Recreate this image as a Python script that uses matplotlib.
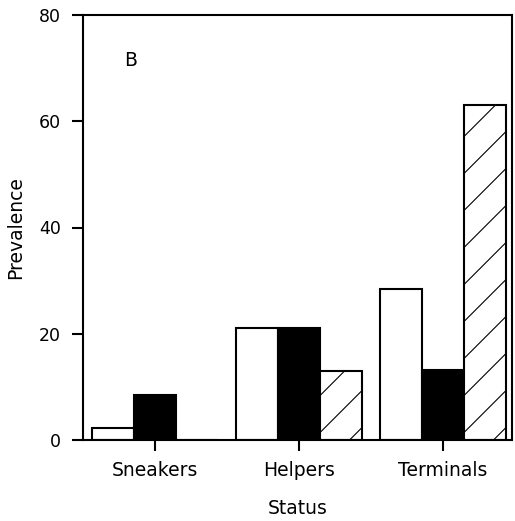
import numpy as np
import matplotlib
matplotlib.use("Agg")
import matplotlib.pyplot as plt

categories = ["Sneakers", "Helpers", "Terminals"]
white_vals = [2.3, 21.0, 28.5]
black_vals = [8.5, 21.0, 13.1]
hatch_vals = [0.0, 13.0, 63.0]
yticks = [0, 20, 40, 60, 80]

plt.rcParams['font.family'] = ['DejaVu Sans']

fig = plt.figure(figsize=(5.15, 5.21), dpi=100)
ax = fig.add_axes([83/515, 81/521, (512-83)/515, (440-15)/521])

x = np.arange(len(categories))
w = 0.29
lw = 1.5
ax.bar(x - w, white_vals, w, color="white", edgecolor="black", linewidth=lw, zorder=2)
ax.bar(x, black_vals, w, color="black", edgecolor="black", linewidth=lw, zorder=2)
hb = ax.bar(x + w, hatch_vals, w, color="white", edgecolor="black", linewidth=lw, zorder=2)

ax.set_xlim(-0.5, 2.48)
ax.set_ylim(0, 80)
ax.set_yticks(yticks)
ax.set_xticks(x)
ax.set_xticklabels(categories)

for s in ax.spines.values():
    s.set_linewidth(1.5)
ax.tick_params(axis='both', direction='out', length=8, width=1.5)
ax.tick_params(axis='x', pad=7, labelsize=13.5)
ax.tick_params(axis='y', pad=8, labelsize=12.5)
ax.set_xlabel("Status", fontsize=13.5, labelpad=14)
ax.set_ylabel("Prevalence", fontsize=13.5, labelpad=10)
ax.text(0.11, 0.894, "B", transform=ax.transAxes, fontsize=13.5, ha='center', va='center')

# sparse diagonal hatching drawn inside hatched bars
inv = ax.transData.inverted()
step = 37.0
for rect in hb.patches:
    if rect.get_height() <= 0:
        continue
    x0, y0 = rect.get_x(), rect.get_y()
    x1, y1 = x0 + rect.get_width(), y0 + rect.get_height()
    (px0, py0), (px1, py1) = ax.transData.transform([(x0, y0), (x1, y1)])
    c = (py0 - px1) + 12
    while c < py1 - px0:
        pts = inv.transform([(px0, px0 + c), (px1, px1 + c)])
        ln, = ax.plot(pts[:, 0], pts[:, 1], color="black", linewidth=0.8, zorder=3)
        ln.set_clip_path(rect)
        c += step

fig.savefig("out.png", dpi=100)
